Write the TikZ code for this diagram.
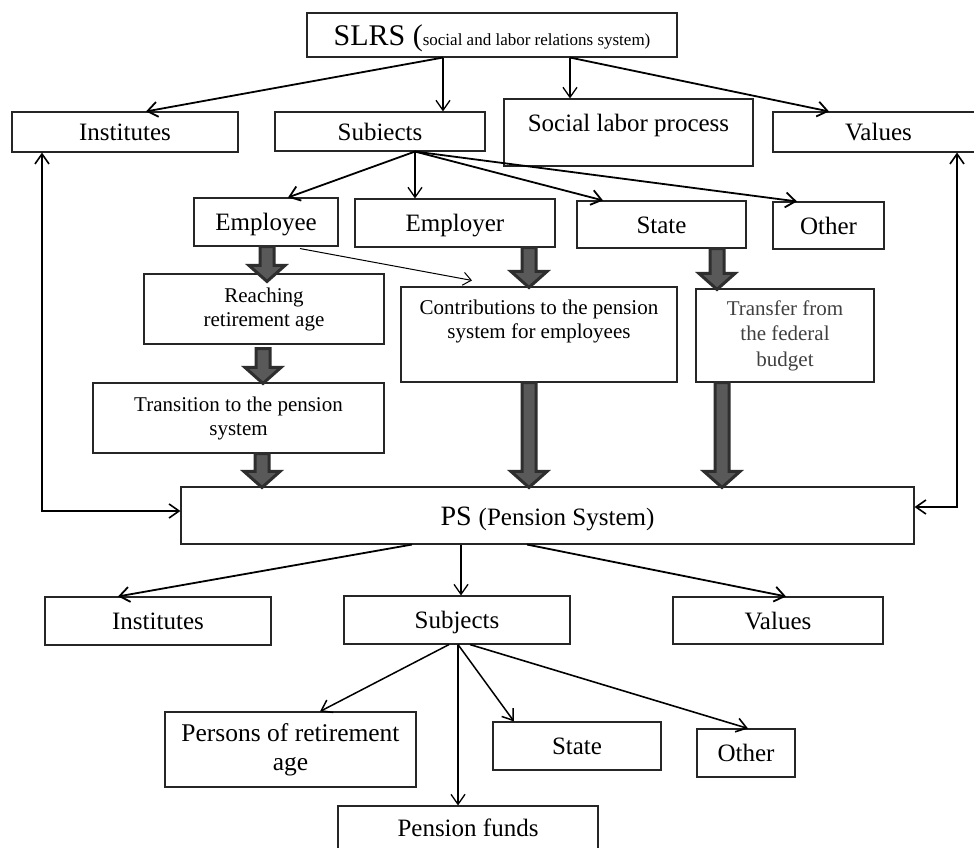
\documentclass[tikz,border=0pt]{standalone}
\usepackage{fontspec}
\setmainfont{Liberation Serif}
\usetikzlibrary{arrows.meta,calc}
\tikzset{
  box/.style={draw=black!85, line width=1.1pt, rectangle, inner sep=0pt, font=\fontsize{25}{28}\selectfont, text height=17pt, text depth=0pt},
  midbox/.style={box, font=\fontsize{21}{24}\selectfont, align=center, text height=, text depth=},
  conn/.style={draw=black, line width=1.8pt, -{Straight Barb[length=10pt,width=15pt]}},
  vconn/.style={draw=black, line width=1.3pt, -{Straight Barb[length=10pt,width=14pt]}},
  thinconn/.style={draw=black, line width=1pt, -{Straight Barb[length=8pt,width=13pt]}},
  dconn/.style={draw=black, line width=1.6pt, {Straight Barb[length=10pt,width=14pt]}-{Straight Barb[length=10pt,width=14pt]}},
  fatstyle/.style={draw=black!82, fill=black!65, line width=3pt, line join=miter},
  inner/.style={inner sep=0pt, align=center}
}
\newcommand\fatarrow[2]{%
  \draw[fatstyle] let \p1=#1, \p2=#2 in
   (\x1-7pt,\y1) -- (\x1+7pt,\y1) -- (\x1+7pt,\y2+16pt) -- (\x1+18pt,\y2+16pt)
   -- (\x1,\y2) -- (\x1-18pt,\y2+16pt) -- (\x1-7pt,\y2+16pt) -- cycle;}
\begin{document}
\begin{tikzpicture}[x=1pt,y=-1pt]
\useasboundingbox (0,0) rectangle (974,848);
\clip (0,0) rectangle (974,848);
\fill[white] (0,0) rectangle (974,848);

% top level
\node[box, minimum width=370pt, minimum height=44pt, text height=21pt] (slrs) at (492,35)
  {{\fontsize{30}{32}\selectfont SLRS (}{\fontsize{17}{20}\selectfont social and labor relations system)}};
\node[box, minimum width=226pt, minimum height=40pt] (inst1) at (125,132) {Institutes};
\node[box, minimum width=210pt, minimum height=39pt] (subj1) at (380,131.5) {Subiects};
\node[box, minimum width=249pt, minimum height=67pt] (slp) at (628.5,132.5) {};
\node[inner, anchor=base, font=\fontsize{25}{28}\selectfont] (slptext) at ([yshift=-33pt]slp.north) {Social labor process};
\node[box, minimum width=211pt, minimum height=40pt] (val1) at (878.5,132) {Values};

% subjects level
\node[box, minimum width=144pt, minimum height=48pt] (employee) at (266,222) {Employee};
\node[box, minimum width=200pt, minimum height=48pt] (employer) at (455,223) {Employer};
\node[box, minimum width=169pt, minimum height=47pt] (state1) at (661.5,224.5) {State};
\node[box, minimum width=111pt, minimum height=47pt] (other1) at (828.5,225.5) {Other};

% middle boxes
\node[midbox, minimum width=240pt, minimum height=70pt] (reaching) at (264,309) {Reaching\\retirement age};
\node[box, minimum width=276pt, minimum height=95pt] (contrib) at (539,334.5) {};
\node[inner, anchor=north, font=\fontsize{21}{24}\selectfont] (contribtext) at ([yshift=-13.5pt]contrib.north) {Contributions to the pension\\system for employees};
\node[midbox, minimum width=178pt, minimum height=93pt, font=\fontsize{21}{25.5}\selectfont, text=black!75] (transfer) at (785,335.5) {Transfer from\\the federal\\budget};
\node[midbox, minimum width=291pt, minimum height=70pt] (transition) at (238.5,418) {Transition to the pension\\system};

% PS
\node[box, minimum width=733pt, minimum height=57pt, text height=19pt] (ps) at (547.5,515.5)
  {{\fontsize{28}{32}\selectfont PS }{\fontsize{25}{28}\selectfont(Pension System)}};

% bottom level
\node[box, minimum width=226pt, minimum height=48pt] (inst2) at (158,621) {Institutes};
\node[box, minimum width=226pt, minimum height=48pt] (subj2) at (457,620) {Subjects};
\node[box, minimum width=210pt, minimum height=47pt] (val2) at (778,620.5) {Values};
\node[box, minimum width=251pt, minimum height=75pt, align=center, font=\fontsize{25.5}{29}\selectfont, text height=, text depth=] (persons) at (290.5,749.5) {Persons of retirement\\age};
\node[box, minimum width=168pt, minimum height=48pt] (state2) at (577,746) {State};
\node[box, minimum width=98pt, minimum height=48pt] (other2) at (746,753) {Other};
\node[box, minimum width=260pt, minimum height=60pt] (funds) at (468,836) {};
\node[inner, anchor=base, font=\fontsize{25}{28}\selectfont] (fundstext) at ([yshift=-31pt]funds.north) {Pension funds};

% thin connectors
\draw[conn] ([xshift=-49pt]slrs.south) -- ([xshift=21pt]inst1.north);
\draw[vconn] ([xshift=-49pt]slrs.south) -- ([xshift=63pt]subj1.north);
\draw[vconn] ([xshift=78pt]slrs.south) -- ([xshift=-58.5pt]slp.north);
\draw[conn] ([xshift=78pt]slrs.south) -- ([xshift=-49.5pt]val1.north);

\draw[conn] ([xshift=35pt]subj1.south) -- ([xshift=22pt]employee.north);
\draw[vconn] ([xshift=35pt]subj1.south) -- ([xshift=-40pt]employer.north);
\draw[conn] ([xshift=35pt]subj1.south) -- ([xshift=-58.5pt]state1.north);
\draw[conn] ([xshift=35pt]subj1.south) -- ([xshift=-31.5pt]other1.north);
\draw[thinconn] ([xshift=34pt,yshift=-2pt]employee.south) -- ([xshift=-67pt,yshift=6pt]contrib.north);

\draw[dconn] ([xshift=-83pt]inst1.south) |- ([yshift=4.5pt]ps.west);
\draw[dconn] ([xshift=78.5pt]val1.south) |- ([yshift=8.5pt]ps.east);

\draw[conn] ([xshift=-135.5pt]ps.south) -- ([xshift=-40pt]inst2.north);
\draw[vconn] ([xshift=-86.5pt]ps.south) -- ([xshift=4pt]subj2.north);
\draw[conn] ([xshift=-20.5pt]ps.south) -- ([xshift=8pt]val2.north);

\draw[vconn, line width=1.5pt] ([xshift=-8pt]subj2.south) -- ([xshift=29.5pt]persons.north);
\draw[vconn] ([xshift=1pt]subj2.south) -- ([xshift=-10pt]funds.north);
\draw[vconn, line width=1.5pt] ([xshift=1pt]subj2.south) -- ([xshift=-63pt]state2.north);
\draw[vconn, line width=1.6pt] ([xshift=13pt]subj2.south) -- ([xshift=2pt]other2.north);

% fat arrows
\fatarrow{([xshift=1pt]employee.south)}{([yshift=-8pt]reaching.north)}
\fatarrow{([xshift=-1pt,yshift=-4pt]reaching.south)}{([yshift=-1pt]transition.north)}
\fatarrow{([xshift=23.5pt]transition.south)}{([yshift=-1pt]ps.north)}
\fatarrow{([xshift=74pt]employer.south)}{([yshift=-1pt]contrib.north)}
\fatarrow{([xshift=-10pt]contrib.south)}{([yshift=-1pt]ps.north)}
\fatarrow{([xshift=55.5pt]state1.south)}{([yshift=-1pt]transfer.north)}
\fatarrow{([xshift=-63pt]transfer.south)}{([yshift=-1pt]ps.north)}
\end{tikzpicture}
\end{document}
